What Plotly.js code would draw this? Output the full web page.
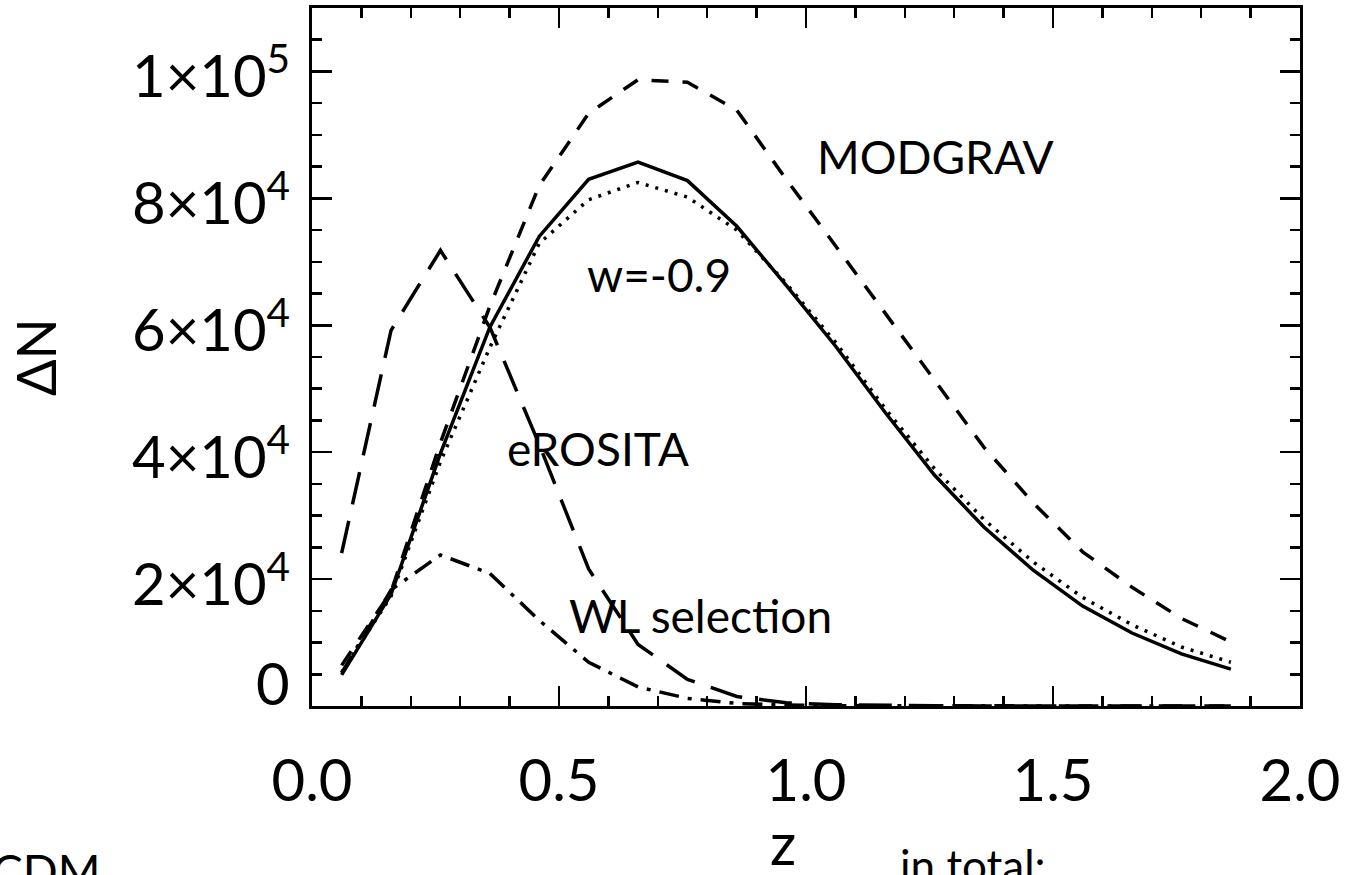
<!DOCTYPE html>
<html>
<head>
<meta charset="utf-8">
<script src="https://cdn.plot.ly/plotly-3.0.1.min.js"></script>
<style>html,body{margin:0;padding:0;background:#fff;}#chart{width:1352px;height:875px;}</style>
</head>
<body>
<div id="chart"></div>
<script>
// redshift bin centres
const z = [0.06,0.16,0.26,0.36,0.46,0.56,0.66,0.76,0.86,0.96,1.06,1.16,1.26,1.36,1.46,1.56,1.66,1.76,1.86];
// LCDM (solid)
const lcdm = [4900,17600,39800,59700,74000,83000,85700,82800,75600,66300,56700,46300,36400,28200,21400,15750,11500,8200,5800];
// w = -0.9 (dotted)
const wde = [5300,17300,38500,56500,72900,79800,82500,80200,75000,66600,57300,46900,37400,29400,22700,17100,12800,9300,6900];
// MODGRAV (dashed)
const modgrav = [6400,18000,41500,63000,82000,93400,98700,98300,93900,83000,72500,62000,51300,40800,32000,24300,18700,13800,10100];
// eROSITA (long dashes)
const erosita = [24100,59200,71800,59700,41200,21600,9700,4200,1500,500,200,80,30,15,8,4,2,1,0];
// WL selection (dash-dot)
const wlsel = [5200,18300,23800,20900,13500,6900,3000,1200,400,150,50,20,8,4,2,1,0,0,0];

const xTickVals = [0,0.5,1,1.5,2];
const xTickText = ['0.0','0.5','1.0','1.5','2.0'];
const yTickVals = [0,20000,40000,60000,80000,100000];
const yTickText = ['0','2×10<sup>4</sup>','4×10<sup>4</sup>','6×10<sup>4</sup>','8×10<sup>4</sup>','1×10<sup>5</sup>'];

const FONT = 'Lato, "Open Sans", sans-serif';
function tr(y, dash){
  return {x: z, y: y, type:'scatter', mode:'lines', line:{color:'#000', width:3.5, dash:dash}, hoverinfo:'skip', showlegend:false};
}
const data = [
  tr(lcdm,'solid'),
  tr(wde,'3px,7px'),
  tr(modgrav,'17px,14px'),
  tr(erosita,'33px,17px'),
  tr(wlsel,'20px,9px,4px,9px')
];

const annotations = [];
yTickVals.forEach((v,i)=>{
  annotations.push({xref:'paper', yref:'y', x:0, y:v, xanchor:'right', yanchor:'middle', xshift:-20,
    yshift: (v===0 ? 24 : 0), text: yTickText[i], showarrow:false, font:{family:FONT,size:58,color:'#000'}});
});
const labels = [
  {x:1.262, y:86600, text:'MODGRAV'},
  {x:0.703, y:68000, text:'w=-0.9'},
  {x:0.578, y:40650, text:'eROSITA'},
  {x:0.786, y:14340, text:'WL selection'}
];
labels.forEach(l=>annotations.push({xref:'x', yref:'y', x:l.x, y:l.y, xanchor:'center', yanchor:'middle',
  text:l.text, showarrow:false, font:{family:FONT,size:46,color:'#000'}}));
annotations.push({xref:'paper', yref:'paper', x:-0.2803, y:0.5, text:'ΔN', textangle:-90, showarrow:false,
  xanchor:'center', yanchor:'middle', font:{family:FONT,size:54,color:'#000'}});
annotations.push({xref:'paper', yref:'paper', x:0.4767, y:(706-842)/698, text:'z', showarrow:false,
  xanchor:'center', yanchor:'middle', font:{family:FONT,size:58,color:'#000'}});
annotations.push({xref:'paper', yref:'paper', x:(973-312)/988, y:(706-837)/698, text:'in total:', showarrow:false,
  xanchor:'center', yanchor:'top', font:{family:FONT,size:44,color:'#000'}});
annotations.push({xref:'paper', yref:'paper', x:(103-312)/988, y:(706-841)/698, text:'ΛCDM', showarrow:false,
  xanchor:'right', yanchor:'top', font:{family:FONT,size:46,color:'#000'}});

const axisCommon = {showgrid:false, zeroline:false, showline:true, linecolor:'#000', linewidth:3,
  mirror:'allticks', ticks:'inside', ticklen:20, tickwidth:2.5, tickcolor:'#000'};
const layout = {
  width:1352, height:875,
  margin:{l:312, r:52, t:8, b:169, pad:0},
  paper_bgcolor:'#fff', plot_bgcolor:'#fff',
  xaxis: Object.assign({}, axisCommon, {range:[0,2], tickmode:'array', tickvals:xTickVals, ticktext:xTickText,
    tickfont:{family:FONT,size:58,color:'#000'}, ticklabelstandoff:22,
    minor:{dtick:0.1, tick0:0, ticks:'inside', ticklen:10, tickwidth:2.5, tickcolor:'#000', showgrid:false}}),
  yaxis: Object.assign({}, axisCommon, {range:[0,110000], tickmode:'array', tickvals:yTickVals, showticklabels:false,
    minor:{dtick:5000, tick0:0, ticks:'inside', ticklen:10, tickwidth:2.5, tickcolor:'#000', showgrid:false}}),
  annotations: annotations,
  showlegend:false
};
Plotly.newPlot('chart', data, layout, {staticPlot:true, displayModeBar:false});
</script>
</body>
</html>
